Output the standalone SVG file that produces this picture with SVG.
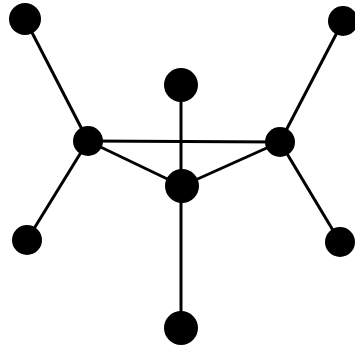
<svg xmlns="http://www.w3.org/2000/svg" width="355" height="349" viewBox="0 0 355 349">
<style>
.n{fill:#000}
.e{stroke:#000;stroke-width:3;fill:none}
</style>
<rect width="355" height="349" fill="#fff"/>
<g id="edges">
<line class="e" x1="25" y1="19" x2="88" y2="141"/>
<line class="e" x1="343" y1="21" x2="280" y2="142"/>
<line class="e" x1="88" y1="141" x2="280" y2="142"/>
<line class="e" x1="88" y1="141" x2="182" y2="186"/>
<line class="e" x1="280" y1="142" x2="182" y2="186"/>
<line class="e" x1="88" y1="141" x2="27" y2="240"/>
<line class="e" x1="280" y1="142" x2="340" y2="242"/>
<line class="e" x1="181" y1="85" x2="181" y2="328"/>
</g>
<g id="tl"><circle class="n" cx="25" cy="19" r="16"/></g>
<g id="tr"><circle class="n" cx="343" cy="21" r="15"/></g>
<g id="tc"><circle class="n" cx="181" cy="85" r="17"/></g>
<g id="lm"><circle class="n" cx="88" cy="141" r="15"/></g>
<g id="rm"><circle class="n" cx="280" cy="142" r="15"/></g>
<g id="c"><circle class="n" cx="182" cy="186" r="17"/></g>
<g id="bl"><circle class="n" cx="27" cy="240" r="15"/></g>
<g id="br"><circle class="n" cx="340" cy="242" r="15"/></g>
<g id="bc"><circle class="n" cx="181" cy="328" r="17"/></g>
</svg>
